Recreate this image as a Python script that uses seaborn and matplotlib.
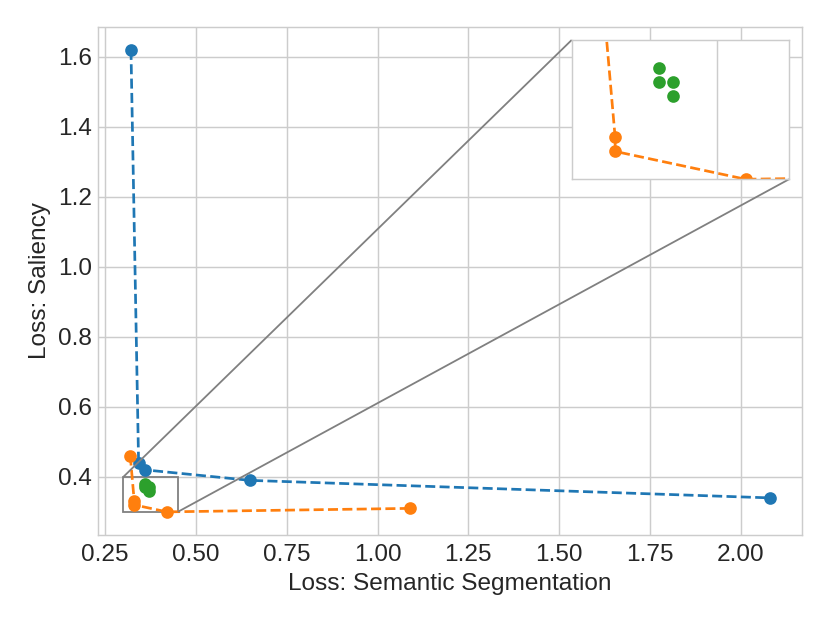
import numpy as np
import pandas as pd
import matplotlib
matplotlib.use('Agg')
import matplotlib.pyplot as plt
import seaborn as sns
from mpl_toolkits.axes_grid1.inset_locator import mark_inset

# loss values (semantic segmentation vs saliency)
blue_seg = [0.321, 0.342, 0.360, 0.649, 2.080]
blue_sal = [1.620, 0.440, 0.420, 0.390, 0.340]

orange_seg = [0.319, 0.330, 0.330, 0.420, 1.090]
orange_sal = [0.461, 0.330, 0.320, 0.300, 0.310]

green_seg = [0.360, 0.360, 0.370, 0.370]
green_sal = [0.380, 0.370, 0.370, 0.360]

sns.set_style("whitegrid")
plt.rcParams['font.family'] = ['Liberation Sans', 'DejaVu Sans']

fig = plt.figure(figsize=(830 / 130, 623 / 130), dpi=130)
ax = fig.add_axes([0.1184, 0.1413, 0.8475, 0.8157])


def draw(a):
    sns.lineplot(x=blue_seg, y=blue_sal, ax=a, color='C0', sort=False, estimator=None,
                 linestyle='--', marker='o', markersize=6, markeredgecolor='C0', markeredgewidth=1)
    sns.lineplot(x=orange_seg, y=orange_sal, ax=a, color='C1', sort=False, estimator=None,
                 linestyle='--', marker='o', markersize=6, markeredgecolor='C1', markeredgewidth=1)
    sns.scatterplot(x=green_seg, y=green_sal, ax=a, color='C2', s=36,
                    edgecolor='C2', linewidth=1)


draw(ax)
ax.tick_params(labelsize=13.5, length=0)
ax.tick_params(axis='x', pad=4.8)
ax.tick_params(axis='y', pad=3.5)
ax.set_xlabel('Loss: Semantic Segmentation', fontsize=13.5)
ax.set_ylabel('Loss: Saliency', fontsize=13.5)

# zoomed inset
axins = ax.inset_axes([0.673, 0.700, 0.309, 0.274])
draw(axins)
axins.set_xlim(0.30, 0.45)
axins.set_ylim(0.30, 0.40)
axins.set_xticks([0.4])
axins.set_xticklabels([])
axins.set_yticks([])
axins.set_facecolor('white')
mark_inset(ax, axins, loc1=2, loc2=4, fc='none', ec='0.5', lw=1)

fig.savefig('out.png', dpi=130)
